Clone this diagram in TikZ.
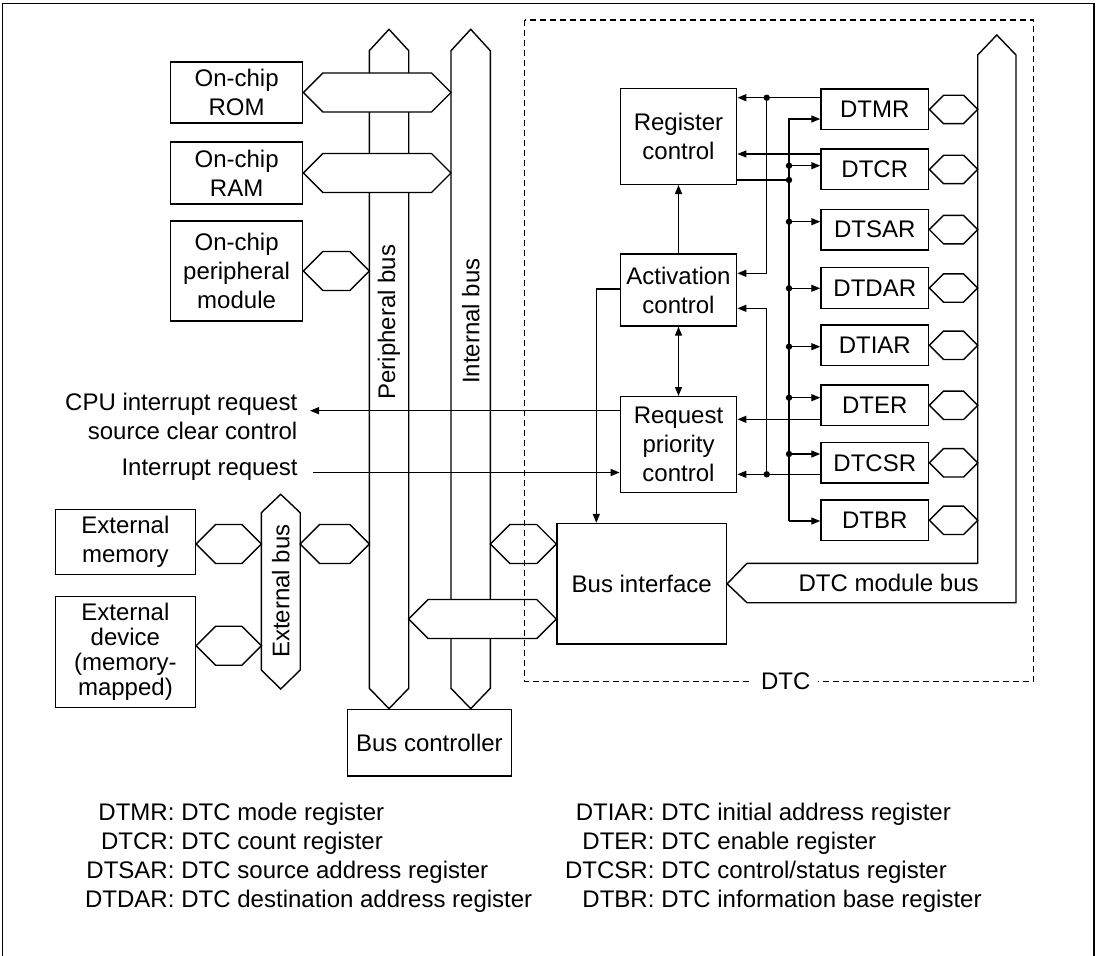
\documentclass[tikz,border=0pt]{standalone}
\usepackage{fontspec}
\setmainfont{Liberation Sans}
\usepackage{tikz}
\usetikzlibrary{arrows.meta,positioning,calc}
\tikzstyle{block} = [rectangle, draw, align=center, inner sep=0pt]
\tikzstyle{reg} = [rectangle, draw, align=center, inner sep=0pt, minimum width=107.7pt, minimum height=40.5pt]
\tikzset{edge/.style = {
    >={Triangle[length=9pt,width=7pt]},
    ->,
  },
  bus/.style = {draw, fill=white, line join=miter}
}
\newcommand{\junction}[1][]{%
  \fill (#1) circle (3.2pt);
}
\newcommand{\hexlink}[3][19.5]{%
  \path (#2) coordinate (hA) (#3) coordinate (hB);
  \draw[bus] (hA) -- ([shift={(#1,-#1)}]hA) -- ([shift={(-#1,-#1)}]hB) -- (hB)
    -- ([shift={(-#1,#1)}]hB) -- ([shift={(#1,#1)}]hA) -- cycle;
}

\begin{document}
\begin{tikzpicture}[x=1pt, y=-1pt, line width=1.4pt, font=\fontsize{24}{29}\selectfont]
  \useasboundingbox (0,0) rectangle (1098,956);
  \draw (2.7,956) -- (2.7,3.3) -- (1093.8,3.3) -- (1093.8,956);

  % blocks
  \node[block, minimum width=132.2pt, minimum height=61pt] (rom) at (236.6,92.5) {On-chip\\ROM};
  \node[block, minimum width=132.2pt, minimum height=62pt] (ram) at (236.6,173) {On-chip\\RAM};
  \node[block, minimum width=132.2pt, minimum height=100pt] (perim) at (236.6,271) {On-chip\\peripheral\\module};
  \node[block, minimum width=140pt, minimum height=65pt] (extmem) at (125.4,542) {External\\memory};
  \node[block, minimum width=140pt, minimum height=110.6pt, font=\fontsize{24}{25}\selectfont] (extdev) at (125.4,652) {External\\device\\(memory-\\mapped)};
  \node[block, minimum width=164.2pt, minimum height=66.7pt] (busctrl) at (429.4,742.7) {Bus controller};
  \node[block, minimum width=116.4pt, minimum height=96pt] (regctrl) at (678.5,136.3) {Register\\control};
  \node[block, minimum width=116.4pt, minimum height=72pt] (actctrl) at (678.5,290) {Activation\\control};
  \node[block, minimum width=116.4pt, minimum height=96pt] (reqctrl) at (678.5,444.7) {Request\\priority\\control};
  \node[block, minimum width=169.5pt, minimum height=120.5pt] (busif) at (641.7,583.8) {Bus interface};

  % registers
  \node[reg] (dtmr) at (874.8,109.4) {DTMR};
  \node[reg] (dtcr) at (874.8,169.4) {DTCR};
  \node[reg] (dtsar) at (874.8,229.6) {DTSAR};
  \node[reg] (dtdar) at (874.8,288) {DTDAR};
  \node[reg] (dtiar) at (874.8,345.3) {DTIAR};
  \node[reg] (dter) at (874.8,405.3) {DTER};
  \node[reg] (dtcsr) at (874.8,462.8) {DTCSR};
  \node[reg] (dtbr) at (874.8,520.3) {DTBR};

  % buses
  \coordinate (xbusL) at (261.3,0);
  \coordinate (xbusR) at (300.2,0);
  \coordinate (pbusL) at (369.3,0);
  \coordinate (pbusR) at (408.7,0);
  \coordinate (ibusL) at (451,0);
  \coordinate (ibusR) at (490.3,0);
  \coordinate (mbusL) at (977.7,0);
  \draw[bus] (261.3,512.7) -- (280.7,494.3) -- (300.2,512.7) -- (300.2,670) -- (280.7,689) -- (261.3,670) -- cycle;
  \draw[bus] (369.3,50.7) -- (389,29.3) -- (408.7,50.7) -- (408.7,688.3) -- (389,708.7) -- (369.3,688.3) -- cycle;
  \draw[bus] (451,50.7) -- (470.7,29.3) -- (490.3,50.7) -- (490.3,688.3) -- (470.7,708.7) -- (451,688.3) -- cycle;
  \draw[bus] (977.7,55) -- (996.8,35) -- (1016,55) -- (1016,602.7) -- (747,602.7) -- (busif.east)
    -- (747,563.3) -- (977.7,563.3) -- cycle;

  \node[rotate=90] (xbuslabel) at (280.7,591) {External bus};
  \node[rotate=90] (pbuslabel) at (389,322) {Peripheral bus};
  \node[rotate=90] (ibuslabel) at (470.7,321) {Internal bus};
  \node (mbuslabel) at (888.6,583) {DTC module bus};

  % bus links
  \hexlink{rom.east}{rom.east -| ibusL}
  \hexlink{ram.east}{ram.east -| ibusL}
  \hexlink{perim.east}{perim.east -| pbusL}
  \hexlink{extmem.east |- 0,544}{xbusL |- 0,544}
  \hexlink{extdev.east |- 0,645.7}{xbusL |- 0,645.7}
  \hexlink{xbusR |- 0,544}{pbusL |- 0,544}
  \hexlink{ibusR |- 0,544}{busif.west |- 0,544}
  \hexlink{pbusR |- 0,619}{busif.west |- 0,619}
  \hexlink[14.2]{dtmr.east}{dtmr.east -| mbusL}
  \hexlink[14.2]{dtcr.east}{dtcr.east -| mbusL}
  \hexlink[14.2]{dtsar.east}{dtsar.east -| mbusL}
  \hexlink[14.2]{dtdar.east}{dtdar.east -| mbusL}
  \hexlink[14.2]{dtiar.east}{dtiar.east -| mbusL}
  \hexlink[14.2]{dter.east}{dter.east -| mbusL}
  \hexlink[14.2]{dtcsr.east}{dtcsr.east -| mbusL}
  \hexlink[14.2]{dtbr.east}{dtbr.east -| mbusL}

  % outside signals
  \node[anchor=east, align=right, inner xsep=12pt, inner ysep=0pt] (cpuclr) at (310,416.7) {CPU interrupt request\\source clear control};
  \node[anchor=east, inner xsep=15pt, inner ysep=0pt] (intreq) at (313.3,470) {Interrupt request};

  %edges
  \coordinate (j1) at (766.7,97.7);
  \coordinate (j2) at (766.7,474.3);
  \coordinate (rtop) at (789,119);
  \coordinate (rbot) at (789,521);

  \draw[edge] (reqctrl.west |- 0,410.7) -- (cpuclr.east |- 0,410.7);
  \draw[edge] (intreq.east |- 0,472.5) -- (reqctrl.west |- 0,472.5);
  \draw[edge] (actctrl.north) -- (regctrl.south);
  \draw[edge, <->] (actctrl.south) -- (reqctrl.north);
  \draw[edge] (actctrl.west |- 0,289) -| (busif.north -| 596.3,0);

  \draw[edge] (dtmr.west |- j1) -- (regctrl.east |- j1);
  \draw[edge] (j1) |- (actctrl.east |- 0,273.3);
  \draw[edge] (dtcr.west |- 0,154) -- (regctrl.east |- 0,154);
  \draw[edge] (dter.west |- 0,419.3) -- (reqctrl.east |- 0,419.3);
  \draw[edge] (dtcsr.west |- j2) -- (reqctrl.east |- j2);
  \draw[edge] (j2) |- (actctrl.east |- 0,308.3);

  \draw (regctrl.east |- 0,180) -- (789,180);
  \draw[edge] (rbot) -- (rtop) -- (dtmr.west |- rtop);
  \draw[edge] (rbot) -- (dtbr.west |- rbot);
  \draw[edge] (789,165.7) -- (dtcr.west |- 0,165.7);
  \draw[edge] (789,221.7) -- (dtsar.west |- 0,221.7);
  \draw[edge] (789,288.3) -- (dtdar.west |- 0,288.3);
  \draw[edge] (789,346.7) -- (dtiar.west |- 0,346.7);
  \draw[edge] (789,397.7) -- (dter.west |- 0,397.7);
  \draw[edge] (789,454) -- (dtcsr.west |- 0,454);

  \junction[j1]
  \junction[j2]
  \junction[789,165.7]
  \junction[789,180]
  \junction[789,221.7]
  \junction[789,288.3]
  \junction[789,346.7]
  \junction[789,397.7]
  \junction[789,454]

  % DTC
  \draw[dash pattern=on 6pt off 4pt] (524.5,20) rectangle (1033.5,681.7);
  \node[fill=white, inner xsep=8pt, inner ysep=2pt] (dtclabel) at (785.7,681.7) {DTC};

  % key
  \node[anchor=north west, inner sep=0pt] (keyleft) at (84.4,799.3) {\begin{tabular}{@{}r@{\hspace{7pt}}l@{}}
    DTMR: & DTC mode register\\
    DTCR: & DTC count register\\
    DTSAR: & DTC source address register\\
    DTDAR: & DTC destination address register
  \end{tabular}};
  \node[anchor=north west, inner sep=0pt] (keyright) at (564.4,799.3) {\begin{tabular}{@{}r@{\hspace{7pt}}l@{}}
    DTIAR: & DTC initial address register\\
    DTER: & DTC enable register\\
    DTCSR: & DTC control/status register\\
    DTBR: & DTC information base register
  \end{tabular}};
\end{tikzpicture}
\end{document}
